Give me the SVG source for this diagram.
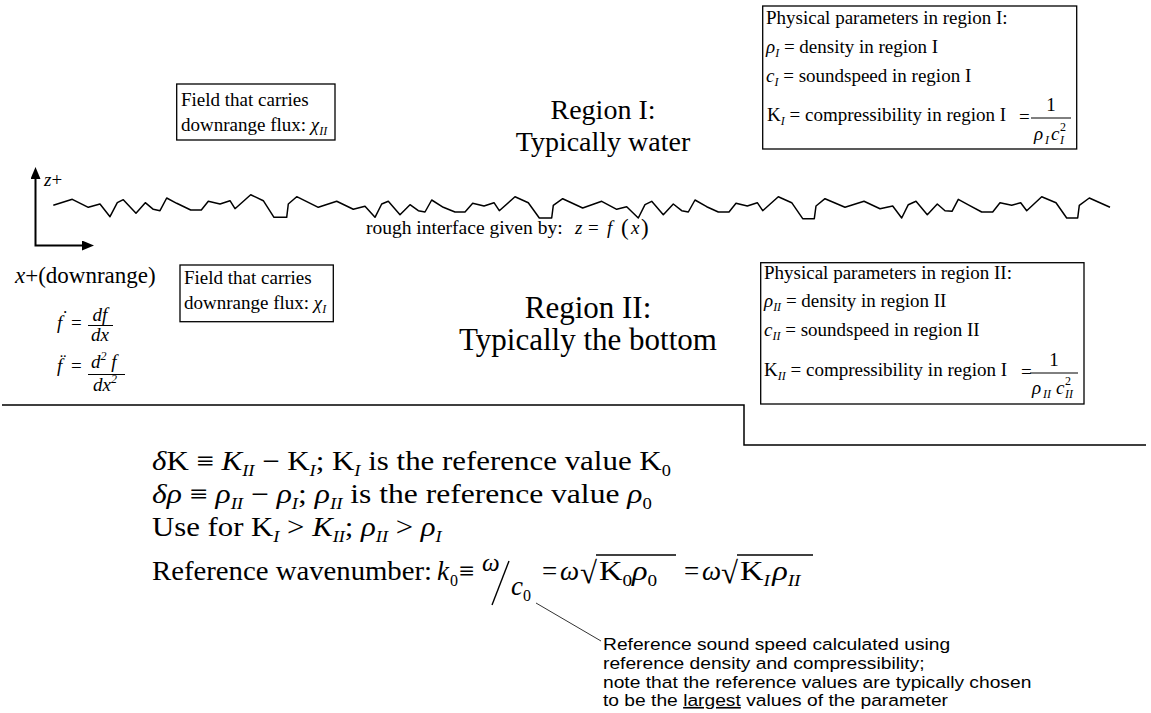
<svg xmlns="http://www.w3.org/2000/svg" width="1151" height="713" viewBox="0 0 1151 713">
<style>
text { font-family: "Liberation Serif", "Times New Roman", serif; fill: #000; }
.i { font-style: italic; }
.b19 { font-size: 19px; }
.s12 { font-size: 12px; font-style: italic; }
.u12 { font-size: 12px; }
.big { font-size: 28px; }
.big2 { font-size: 31px; }
.eq { font-size: 27px; }
.s17 { font-size: 16px; font-style: italic; }
.u17 { font-size: 16px; font-style: normal; }
.note { font-family: "Liberation Sans", Arial, sans-serif; font-size: 16.5px; }
.box { fill: #fff; stroke: #000; stroke-width: 1.3; }
.ln { fill: none; stroke: #000; }
.bar { stroke: #000; stroke-width: 1; }
</style>
<defs>
<marker id="ah" viewBox="0 0 12 10" refX="0" refY="5" markerWidth="12" markerHeight="10" markerUnits="userSpaceOnUse" orient="auto-start-reverse">
<path d="M0,0 L12,5 L0,10 z" fill="#000"/>
</marker>
</defs>

<g id="connectors">
<path id="axes" class="ln" stroke-width="2" d="M35.5,179 V245.5 H82" marker-start="url(#ah)" marker-end="url(#ah)"/>
<polyline id="interface" class="ln" stroke-width="1.5" stroke-linejoin="round" points="53.3,205.3 72.3,199.3 88.3,207.3 100,204 110,216.7 117.3,202.7 123.3,199.7 136,213.3 145.3,202.7 153.3,209.3 160,210.7 166.7,198 176.7,203.3 190.7,210 201.3,210 208.3,201.3 220,204 230,200.7 235,208.7 250.7,194.7 263.3,200.7 274,217.3 286.7,217.3 288.3,204 296.7,196.7 318.3,207.3 336.7,201.3 353.3,209.3 365,206.3 375,217.3 381.7,204 388.3,201.3 400,214.7 410,204.7 418.3,210.7 425,212 431.7,200 443.3,207.3 455,212 465,212 472.7,203.3 484,206 494,202.7 499.3,210.7 515,196.7 528.3,202.7 539.3,218 551.7,218 553.3,205.3 562.7,198.7 582.7,208 601.7,201.3 616.7,209.3 626.7,206.7 638.3,218 645,204.7 651.7,201.3 663.3,214.7 673.3,204 681.7,210.7 688.3,212 695,200 706.7,206.7 718.3,212 729,212 736,203.3 747.3,206 757.3,202.7 762.7,210.7 778.3,196.7 791.7,202.7 802.7,218.7 814.3,218.7 816,206 825,198.7 845,207.3 864,201.3 880,208.7 892.7,206 901.7,218 908.3,204.7 916,201.3 927.3,214.7 937.3,204 945,210.7 952,211.3 958.3,199.3 969.3,205.3 981.7,212 992.7,212 1000,202.7 1011.7,205.3 1020.7,202.7 1026.7,210.7 1041.7,196.7 1056,202.7 1066.7,218 1077.7,218 1079.3,205.3 1089.3,198 1110,207.3"/>
<path id="separator" class="ln" stroke="#444" stroke-width="1.5" d="M2,405 H744 V445 H1146"/>
<line id="callout" x1="536" y1="603" x2="601" y2="641" stroke="#333" stroke-width="1"/>
</g>

<g id="axis-labels">
<text x="44" y="186" class="b19"><tspan class="i">z</tspan>+</text>
<text x="15" y="283" font-size="23"><tspan class="i">x</tspan>+(downrange)</text>
</g>

<g id="interface-label">
<text x="366" y="234" font-size="19.5">rough interface given by:</text>
<text x="575" y="234" class="b19 i">z</text>
<text x="588" y="234" class="b19">=</text>
<text x="607" y="234" class="b19 i">f</text>
<text x="621" y="235" font-size="23">(</text>
<text x="631" y="234" class="b19 i">x</text>
<text x="641" y="235" font-size="23">)</text>
</g>

<g id="derivatives">
<text x="57" y="329" class="b19 i">f</text>
<text x="62" y="324" class="b19">˙</text>
<text x="71" y="329" class="b19">=</text>
<text x="100" y="321" class="b19 i" text-anchor="middle">df</text>
<line class="bar" x1="88" y1="325.5" x2="113" y2="325.5"/>
<text x="100" y="341" class="b19 i" text-anchor="middle">dx</text>

<text x="57" y="372" class="b19 i">f</text>
<text x="60" y="367" class="b19">¨</text>
<text x="71" y="372" class="b19">=</text>
<text x="91" y="368" class="b19 i">d<tspan class="u12" dy="-8">2</tspan><tspan dy="8"> f</tspan></text>
<line class="bar" x1="88" y1="374.5" x2="125" y2="374.5"/>
<text x="93" y="391" class="b19 i">dx<tspan class="u12" dy="-8">2</tspan></text>
</g>

<g id="field-region-I">
<rect class="box" x="176.7" y="84" width="158.3" height="56"/>
<text x="181" y="106" class="b19">Field that carries</text>
<text x="181" y="131" class="b19">downrange flux: <tspan class="i">χ</tspan><tspan class="s12" dy="4">II</tspan></text>
</g>

<g id="field-region-II">
<rect class="box" x="180" y="265" width="153.3" height="56.7"/>
<text x="184" y="284" class="b19">Field that carries</text>
<text x="184" y="309" class="b19">downrange flux: <tspan class="i">χ</tspan><tspan class="s12" dy="4">I</tspan></text>
</g>

<g id="region-I-label">
<text x="603" y="119" class="big" text-anchor="middle">Region I:</text>
<text x="603" y="151" class="big" text-anchor="middle">Typically water</text>
</g>

<g id="region-II-label">
<text x="588" y="318" class="big2" text-anchor="middle">Region II:</text>
<text x="588" y="350" class="big2" text-anchor="middle">Typically the bottom</text>
</g>

<g id="params-region-I">
<rect class="box" x="762.7" y="6" width="314" height="143"/>
<text x="766" y="24" class="b19">Physical parameters in region I:</text>
<text x="766" y="53" class="b19"><tspan class="i">ρ</tspan><tspan class="s12" dy="4">I</tspan><tspan dy="-4"> = density in region I</tspan></text>
<text x="766" y="82" class="b19"><tspan class="i">c</tspan><tspan class="s12" dy="4">I</tspan><tspan dy="-4"> = soundspeed in region I</tspan></text>
<text x="767" y="121" class="b19">K<tspan class="s12" dy="4">I</tspan><tspan dy="-4"> = compressibility in region I</tspan></text>
<text x="1019" y="123" class="b19">=</text>
<text x="1051" y="111" class="b19" text-anchor="middle">1</text>
<line class="bar" x1="1031" y1="118" x2="1071" y2="118"/>
<text x="1034" y="140" class="b19 i">ρ</text>
<text x="1045" y="144" class="s12">I</text>
<text x="1051" y="140" class="b19 i">c</text>
<text x="1060" y="131" class="u12">2</text>
<text x="1060" y="144" class="s12">I</text>
</g>

<g id="params-region-II">
<rect class="box" x="760.7" y="262.7" width="323.3" height="141.3"/>
<text x="764" y="279" class="b19">Physical parameters in region II:</text>
<text x="764" y="307" class="b19"><tspan class="i">ρ</tspan><tspan class="s12" dy="4">II</tspan><tspan dy="-4"> = density in region II</tspan></text>
<text x="764" y="336" class="b19"><tspan class="i">c</tspan><tspan class="s12" dy="4">II</tspan><tspan dy="-4"> = soundspeed in region II</tspan></text>
<text x="764" y="376" class="b19">K<tspan class="s12" dy="4">II</tspan><tspan dy="-4"> = compressibility in region I</tspan></text>
<text x="1021" y="378" class="b19">=</text>
<text x="1054" y="366" class="b19" text-anchor="middle">1</text>
<line class="bar" x1="1030" y1="373" x2="1078" y2="373"/>
<text x="1032" y="394" class="b19 i">ρ</text>
<text x="1043" y="398" class="s12">II</text>
<text x="1056" y="394" class="b19 i">c</text>
<text x="1065" y="385" class="u12">2</text>
<text x="1065" y="398" class="s12">II</text>
</g>

<g id="definitions">
<text x="0" y="470" class="eq" transform="translate(152,0) scale(1.145,1)"><tspan class="i">δ</tspan>K ≡ <tspan class="i">K</tspan><tspan class="s17" dy="6">II</tspan><tspan dy="-6"> − K</tspan><tspan class="s17" dy="6">I</tspan><tspan dy="-6">; K</tspan><tspan class="s17" dy="6">I</tspan><tspan dy="-6"> is the reference value K</tspan><tspan class="u17" dy="6">0</tspan></text>
<text x="0" y="503" class="eq" transform="translate(152,0) scale(1.17,1)"><tspan class="i">δρ</tspan> ≡ <tspan class="i">ρ</tspan><tspan class="s17" dy="6">II</tspan><tspan dy="-6"> − </tspan><tspan class="i">ρ</tspan><tspan class="s17" dy="6">I</tspan><tspan dy="-6">; </tspan><tspan class="i">ρ</tspan><tspan class="s17" dy="6">II</tspan><tspan dy="-6"> is the reference value </tspan><tspan class="i">ρ</tspan><tspan class="u17" dy="6">0</tspan></text>
<text x="0" y="536" class="eq" transform="translate(152,0) scale(1.14,1)">Use for K<tspan class="s17" dy="6">I</tspan><tspan dy="-6"> &gt; </tspan><tspan class="i">K</tspan><tspan class="s17" dy="6">II</tspan><tspan dy="-6">; </tspan><tspan class="i">ρ</tspan><tspan class="s17" dy="6">II</tspan><tspan dy="-6"> &gt; </tspan><tspan class="i">ρ</tspan><tspan class="s17" dy="6">I</tspan></text>
</g>

<g id="wavenumber">
<text x="0" y="580" class="eq" transform="translate(152,0) scale(1.065,1)">Reference wavenumber:</text>
<text x="437" y="580" class="eq i">k</text>
<text x="450" y="586" class="u17">0</text>
<text x="459" y="580" class="eq">≡</text>
<text x="482" y="571" font-size="25" class="i">ω</text>
<line x1="492" y1="605" x2="509" y2="561" stroke="#000" stroke-width="1.4"/>
<text x="511" y="595" class="eq i">c</text>
<text x="523" y="601" class="u17">0</text>
<text x="542" y="580" class="eq">=</text>
<text x="560" y="580" class="eq i">ω</text>
<text x="580" y="583" font-size="31">√</text>
<line x1="596" y1="555" x2="676" y2="555" stroke="#000" stroke-width="1.3"/>
<text x="0" y="580" class="eq" transform="translate(599,0) scale(1.2,1)">K<tspan class="u17" dy="6">0</tspan><tspan class="i" dy="-6">ρ</tspan><tspan class="u17" dy="6">0</tspan></text>
<text x="684" y="580" class="eq">=</text>
<text x="702" y="580" class="eq i">ω</text>
<text x="721" y="583" font-size="31">√</text>
<line x1="737" y1="555" x2="813" y2="555" stroke="#000" stroke-width="1.3"/>
<text x="0" y="580" class="eq" transform="translate(740,0) scale(1.2,1)">K<tspan class="s17" dy="6">I</tspan><tspan class="i" dx="2" dy="-6">ρ</tspan><tspan class="s17" dy="6">II</tspan></text>
</g>

<g id="callout-note" transform="translate(603,0) scale(1.165,1)">
<text x="0" y="650" class="note">Reference sound speed calculated using</text>
<text x="0" y="669" class="note">reference density and compressibility;</text>
<text x="0" y="688" class="note">note that the reference values are typically chosen</text>
<text x="0" y="706" class="note">to be the <tspan text-decoration="underline">largest</tspan> values of the parameter</text>
</g>
</svg>
